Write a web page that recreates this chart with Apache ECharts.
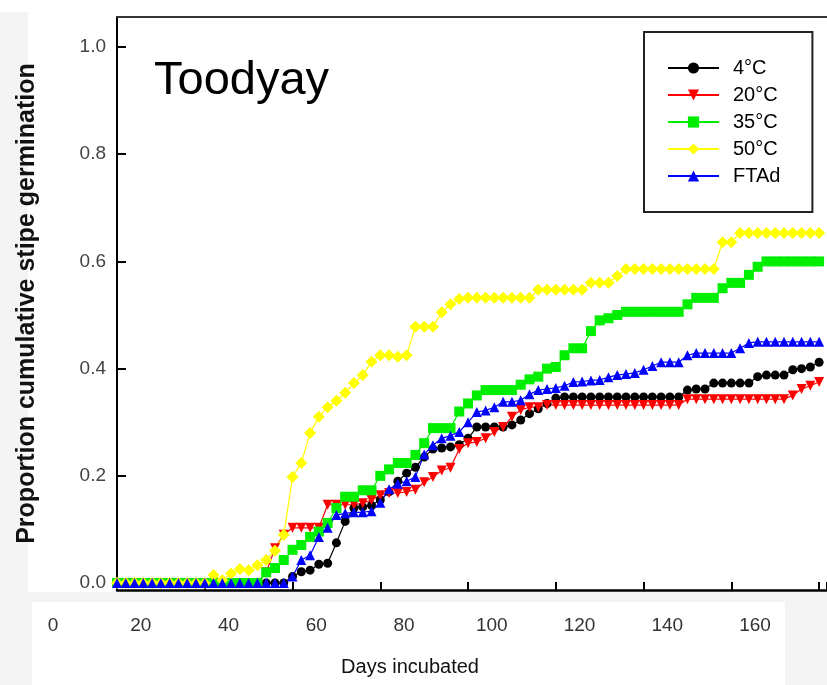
<!DOCTYPE html>
<html><head><meta charset="utf-8">
<script src="https://cdn.jsdelivr.net/npm/echarts@6/dist/echarts.min.js"></script>
<style>html,body{margin:0;padding:0;background:#fff}#c{width:827px;height:685px}</style>
</head><body><div id="c"></div>
<script>
// Days incubated (observation days)
const days = [20,22,24,26,28,30,32,34,36,38,40,42,44,46,48,50,52,54,56,58,60,62,64,66,68,70,72,74,76,78,80,82,84,86,88,90,92,94,96,98,100,102,104,106,108,110,112,114,116,118,120,122,124,126,128,130,132,134,136,138,140,142,144,146,148,150,152,154,156,158,160,162,164,166,168,170,172,174,176,178,180];
const seriesNames = ['4°C','20°C','35°C','50°C','FTAd'];
const v4C = [0,0,0,0,0,0,0,0,0,0,0,0,0,0,0,0,0,0,0,0,
  0.012,0.021,0.024,0.035,0.037,0.075,0.115,0.14,0.142,0.145,0.155,0.17,0.19,0.205,0.216,0.235,0.25,0.252,0.254,0.258,0.27,0.291,0.291,0.291,0.291,0.295,0.304,0.316,0.325,0.335,0.345,
  0.347,0.347,0.347,0.347,0.347,0.347,0.347,0.347,0.347,0.347,0.347,0.347,0.347,0.347,
  0.36,0.362,0.362,0.373,0.373,0.373,0.373,0.373,0.385,0.388,0.388,0.388,0.398,0.4,0.403,0.412];
const v20C = [0,0,0,0,0,0,0,0,0,0,0,0,0,0,0,0,0,
  0.02,0.065,0.09,0.103,0.103,0.103,0.103,0.146,0.146,0.146,0.146,
  0.149,0.155,0.164,0.168,0.168,0.17,0.174,0.188,0.198,0.21,0.215,0.25,0.261,0.263,0.27,0.282,0.291,0.31,0.323,0.328,0.328,
  0.332,0.332,0.332,0.332,0.332,0.332,0.332,0.332,0.332,0.332,0.332,0.332,0.332,0.332,0.332,0.332,
  0.343,0.343,0.343,0.343,0.343,0.343,0.343,0.343,0.343,0.343,0.343,0.343,
  0.35,0.362,0.368,0.375];
const v35C = [0,0,0,0,0,0,0,0,0,0,0,0,0,0,0,0,0,
  0.02,0.028,0.043,0.062,0.071,0.086,0.096,0.112,0.14,0.161,0.161,0.173,0.173,0.2,0.212,0.224,0.224,0.239,0.261,0.289,
  0.289,0.289,0.32,0.335,0.35,0.36,0.36,0.36,0.36,0.37,0.38,0.385,0.4,0.403,0.425,0.438,0.438,0.47,0.49,0.494,0.5,
  0.506,0.506,0.506,0.506,0.506,0.506,0.506,
  0.52,0.532,0.532,0.532,0.55,0.56,0.56,0.575,0.59,
  0.6,0.6,0.6,0.6,0.6,0.6,0.6];
const v50C = [0,0,0,0,0,0,0,0,0,0,0,
  0.015,0.005,0.018,0.026,0.024,0.033,0.043,0.06,0.09,0.198,0.224,0.28,0.31,0.328,0.34,0.355,0.373,0.388,0.413,0.425,
  0.425,0.422,0.425,0.478,0.478,0.478,0.505,0.52,0.53,
  0.532,0.532,0.532,0.532,0.532,0.532,0.532,0.532,
  0.547,0.547,0.547,0.547,0.547,0.547,
  0.56,0.56,0.56,0.573,
  0.586,0.586,0.586,0.586,0.586,0.586,0.586,0.586,0.586,0.586,0.586,
  0.636,0.636,
  0.653,0.653,0.653,0.653,0.653,0.653,0.653,0.653,0.653,0.653];
const vFTAd = [0,0,0,0,0,0,0,0,0,0,0,0,0,0,0,0,0,0,0,0,
  0.012,0.043,0.052,0.086,0.103,0.127,0.13,0.132,0.132,0.134,0.15,0.175,0.185,0.19,0.198,0.24,0.257,0.27,0.275,0.282,
  0.3,0.319,0.322,0.328,0.338,0.338,0.341,0.352,0.36,0.362,0.364,0.368,0.375,0.376,0.378,0.379,0.384,0.388,0.39,0.392,
  0.398,0.405,0.412,0.412,0.412,0.425,
  0.429,0.429,0.429,0.429,0.429,
  0.438,0.448,
  0.45,0.45,0.45,0.45,0.45,0.45,0.45,0.45];
const xTickLabels = [0,20,40,60,80,100,120,140,160];
const yTickValues = [0,0.2,0.4,0.6,0.8,1.0];

const font = '"Liberation Sans", Arial, sans-serif';
const colors = ['#000000','#ff0000','#00ee00','#ffff00','#0000ff'];
const symbols = ['circle','triangle','rect','diamond','triangle'];
const rotates = [0,180,0,0,0];
const sizes = [9,10,10,12,10];
const allVals = [v4C, v20C, v35C, v50C, vFTAd];

const chart = echarts.init(document.getElementById('c'));
const option = {
  animation: false,
  backgroundColor: '#ffffff',
  textStyle: {fontFamily: font},
  graphic: [
    {type:'rect', shape:{x:0,y:12,width:28,height:580}, style:{fill:'#f4f4f4'}, silent:true},
    {type:'rect', shape:{x:0,y:592,width:827,height:10}, style:{fill:'#f4f4f4'}, silent:true},
    {type:'rect', shape:{x:0,y:602,width:32,height:83}, style:{fill:'#f4f4f4'}, silent:true},
    {type:'rect', shape:{x:785,y:602,width:42,height:83}, style:{fill:'#f4f4f4'}, silent:true}
  ],
  title: {text:'Toodyay', left:154, top:58, padding:0,
    textStyle:{fontSize:47, fontWeight:'normal', color:'#000', fontFamily:font}},
  legend: {
    data: seriesNames, orient:'vertical', left:644, top:32,
    padding:[26,32,26,23], itemWidth:51, itemHeight:14, itemGap:7,
    borderColor:'#222', borderWidth:2, backgroundColor:'#fff',
    selectedMode:false,
    textStyle:{fontSize:20, color:'#000', fontFamily:font, padding:[0,0,0,9]}
  },
  grid: [
    {left:117, top:17, width:710, height:573, containLabel:false},
    {left:53, top:604, width:702, height:1, containLabel:false}
  ],
  xAxis: [
    {gridIndex:0, type:'value', min:20, max:181.8, interval:20,
      axisLine:{onZero:false, lineStyle:{color:'#000', width:2.5}},
      axisTick:{inside:true, length:8, lineStyle:{color:'#000', width:2}},
      axisLabel:{show:false}, splitLine:{show:false}},
    {gridIndex:0, type:'value', position:'top', min:20, max:181.8,
      axisLine:{show:true, onZero:false, lineStyle:{color:'#333', width:2}},
      axisTick:{show:false}, axisLabel:{show:false}, splitLine:{show:false}},
    {gridIndex:1, type:'value', min:0, max:160, interval:20,
      axisLine:{show:false}, axisTick:{show:false}, splitLine:{show:false},
      axisLabel:{fontSize:19, color:'#333', margin:11, fontFamily:font,
        customValues: xTickLabels, formatter: v => String(v)},
      name:'Days incubated', nameLocation:'middle', nameGap:52,
      nameTextStyle:{fontSize:20, color:'#111', fontFamily:font, padding:[0,0,0,12]}}
  ],
  yAxis: [
    {gridIndex:0, type:'value', min:-0.013, max:1.056,
      axisLine:{show:true, onZero:false, lineStyle:{color:'#000', width:2}},
      axisTick:{show:true, inside:true, length:9, customValues:yTickValues, lineStyle:{color:'#000', width:2}},
      axisLabel:{customValues:yTickValues, formatter: v => v.toFixed(1), fontSize:19, color:'#444', margin:11, fontFamily:font},
      splitLine:{show:false},
      name:'Proportion cumulative stipe germination', nameLocation:'middle', nameGap:77,
      nameTextStyle:{fontSize:25, fontWeight:'bold', color:'#111', fontFamily:font}},
    {gridIndex:1, type:'value', show:false, min:0, max:1}
  ],
  series: seriesNames.map((n, k) => ({
    name: n, type:'line', xAxisIndex:0, yAxisIndex:0,
    data: days.map((d, i) => [d, allVals[k][i]]),
    symbol: symbols[k], symbolSize: sizes[k], symbolRotate: rotates[k],
    showSymbol: true,
    lineStyle:{color: colors[k], width:1.2},
    itemStyle:{color: colors[k]},
    color: colors[k]
  }))
};
chart.setOption(option);
</script>
</body></html>
